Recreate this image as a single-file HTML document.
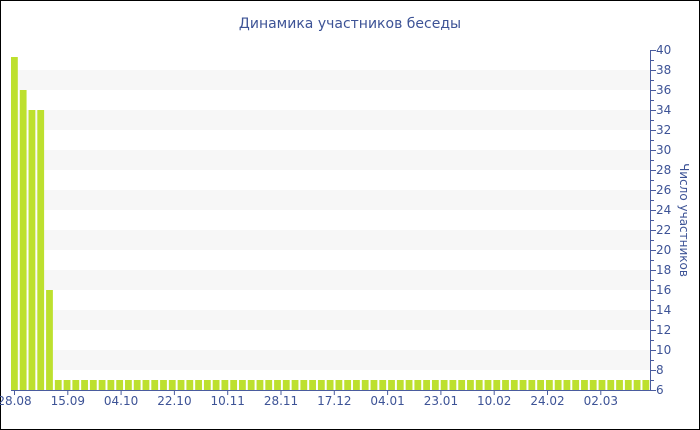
<!DOCTYPE html>
<html><head><meta charset="utf-8"><style>
body{margin:0;background:#fff}
svg{display:block}
text{font-family:"DejaVu Sans","Liberation Sans",sans-serif;fill:#3d5396}
</style></head><body>
<svg width="700" height="430" viewBox="0 0 700 430" xmlns="http://www.w3.org/2000/svg">
<rect x="0.5" y="0.5" width="699" height="429" fill="#fff" stroke="#000"/>
<text x="350" y="28" font-size="14" text-anchor="middle">Динамика участников беседы</text>
<g fill="#f7f7f7">
<rect x="11" y="70" width="640" height="20"/><rect x="11" y="110" width="640" height="20"/>
<rect x="11" y="150" width="640" height="20"/><rect x="11" y="190" width="640" height="20"/>
<rect x="11" y="230" width="640" height="20"/><rect x="11" y="270" width="640" height="20"/>
<rect x="11" y="310" width="640" height="20"/><rect x="11" y="350" width="640" height="20"/>
</g>
<g id="bars" fill="#bde02e"></g>
<line x1="11" y1="390.5" x2="651" y2="390.5" stroke="#4a5c9e"/>
<line x1="650.5" y1="50" x2="650.5" y2="390" stroke="#4a5c9e"/>
<g id="yt" font-size="12"></g>
<g id="xt" font-size="12" text-anchor="middle"></g>
<text transform="translate(680,220) rotate(90)" font-size="12" text-anchor="middle">Число участников</text>
</svg>
<script>
var ns="http://www.w3.org/2000/svg";
var b=document.getElementById('bars');
var vals=[39.3,36,34,34,16];
for(var i=0;i<73;i++){var v=i<5?vals[i]:7;var r=document.createElementNS(ns,'rect');
var x=11+i*8.77;r.setAttribute('x',x.toFixed(2));r.setAttribute('width','6.8');
var y=390-(v-6)*10;r.setAttribute('y',y);r.setAttribute('height',390-y);b.appendChild(r);}
var yt=document.getElementById('yt');
for(var v=6;v<=40;v++){var y=390-(v-6)*10;var l=document.createElementNS(ns,'line');
l.setAttribute('x1',651);l.setAttribute('x2',v%2==0?656:654);l.setAttribute('y1',y+.5);l.setAttribute('y2',y+.5);l.setAttribute('stroke','#4a5c9e');yt.appendChild(l);
if(v%2==0){var t=document.createElementNS(ns,'text');t.setAttribute('x',656);t.setAttribute('y',y+4);t.textContent=v;yt.appendChild(t);}}
var xt=document.getElementById('xt');
var labs=['28.08','15.09','04.10','22.10','10.11','28.11','17.12','04.01','23.01','10.02','24.02','02.03'];
for(var i=0;i<labs.length;i++){var x=14.5+i*53.3;var t=document.createElementNS(ns,'text');
t.setAttribute('x',x);t.setAttribute('y',405);t.textContent=labs[i];xt.appendChild(t);
var l=document.createElementNS(ns,'line');l.setAttribute('x1',x);l.setAttribute('x2',x);l.setAttribute('y1',390);l.setAttribute('y2',395);l.setAttribute('stroke','#4a5c9e');xt.appendChild(l);}
</script>
</body></html>
